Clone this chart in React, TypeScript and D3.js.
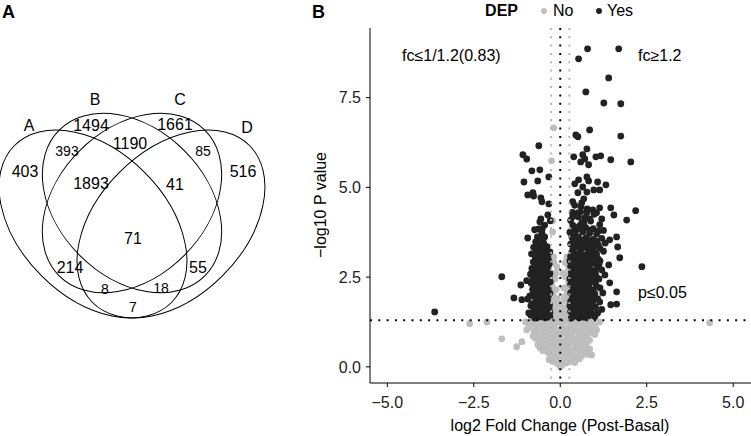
import React from "react";
import * as d3 from "d3";

// ---- Venn (panel A) ----
const vennSetNames = ["A", "B", "C", "D"];
const vennRegionKeys = ["A", "B", "C", "D", "AB", "BC", "CD", "ABC", "BCD", "ABCD", "AC", "BD", "ACD", "ABD", "AD"];
const vennCounts = [403, 1494, 1661, 516, 393, 1190, 85, 1893, 41, 71, 214, 55, 8, 18, 7];

// ---- Volcano (panel B) ----
const xTicks = [-5, -2.5, 0, 2.5, 5];
const yTicks = [0, 2.5, 5, 7.5];
const pCutoff = 0.05;
const fcCutoff = 1.2;

// DEP = Yes  [log2FC, -log10 p]
const depYes: [number, number][] = [
  [0.79, 8.86], [1.69, 8.86], [0.53, 8.58], [1.4, 8.05], [0.74, 7.66], [1.26, 7.35], [1.75, 7.33],
  [0.85, 6.6], [0.45, 6.46], [0.51, 6.41], [1.75, 6.43], [0.77, 6.07], [-0.62, 6.16], [-1.08, 5.91],
  [-0.97, 5.79], [0.39, 5.85], [0.65, 5.91], [0.71, 5.79], [1.03, 5.85], [1.17, 5.88], [0.59, 5.71],
  [0.82, 5.63], [1.46, 5.77], [2.04, 5.71], [-0.82, 5.46], [-0.59, 5.49], [-0.33, 5.29], [-1.05, 5.15],
  [-0.65, 5.18], [-0.94, 4.79], [-0.79, 4.85], [-0.77, 4.76], [-0.56, 4.71], [-0.53, 4.6], [-0.33, 4.54],
  [-0.36, 4.23], [-0.56, 4.12], [-0.59, 4.04], [-0.29, 4.07], [-0.62, 3.84], [-0.74, 3.82], [-0.94, 3.59],
  [-0.53, 3.73], [-0.45, 3.95],
  [0.77, 5.29], [0.82, 5.18], [0.53, 5.21], [1.08, 5.15], [0.42, 5.1], [0.65, 5.01], [1.32, 5.07],
  [0.51, 4.85], [0.77, 4.87], [0.97, 4.93], [1.14, 4.93], [0.68, 4.68], [0.62, 4.57], [0.36, 4.6],
  [1.46, 4.43], [2.18, 4.35], [1.14, 4.43], [0.94, 4.37], [1.05, 4.29], [1.55, 4.23], [0.51, 4.29],
  [0.77, 4.29], [0.59, 4.32], [0.36, 4.18], [0.85, 4.12], [1.92, 4.09], [0.68, 4.01], [1.14, 3.96],
  [0.42, 3.73], [1.43, 3.54], [1.66, 3.34], [1.72, 3.04], [2.36, 2.79], [1.4, 2.84], [1.29, 2.56],
  [1.43, 2.34], [1.63, 2.09], [1.23, 2.06], [1.46, 1.73], [1.63, 1.75], [1.14, 1.81], [1.63, 3.62],
  [-1.69, 2.51], [-1.14, 2.28], [-0.97, 2.4], [-1.34, 1.92], [-1.11, 1.87], [-0.94, 1.89], [-0.85, 1.7],
  [-0.91, 1.5], [-3.63, 1.53], [-0.82, 2.56],
  // left dense cluster
  [-0.66, 3.62], [-0.58, 3.55], [-0.71, 3.48], [-0.48, 3.45], [-0.63, 3.38], [-0.77, 3.33], [-0.55, 3.3],
  [-0.42, 3.27], [-0.69, 3.22], [-0.83, 3.15], [-0.6, 3.13], [-0.5, 3.1], [-0.36, 3.05], [-0.72, 3.02],
  [-0.64, 2.97], [-0.78, 2.92], [-0.55, 2.9], [-0.45, 2.93], [-0.68, 2.84], [-0.32, 2.86], [-0.6, 2.8],
  [-0.5, 2.76], [-0.82, 2.74], [-0.74, 2.7], [-0.41, 2.7], [-0.64, 2.64], [-0.55, 2.62], [-0.3, 2.6],
  [-0.86, 2.58], [-0.7, 2.55], [-0.47, 2.53], [-0.6, 2.5], [-0.78, 2.46], [-0.38, 2.46], [-0.66, 2.42],
  [-0.52, 2.4], [-0.29, 2.37], [-0.84, 2.33], [-0.72, 2.3], [-0.58, 2.28], [-0.44, 2.27], [-0.64, 2.2],
  [-0.35, 2.19], [-0.8, 2.16], [-0.5, 2.14], [-0.7, 2.1], [-0.58, 2.06], [-0.3, 2.05], [-0.42, 2.02],
  [-0.88, 1.98], [-0.76, 1.96], [-0.64, 1.93], [-0.52, 1.9], [-0.36, 1.88], [-0.7, 1.83], [-0.45, 1.8],
  [-0.82, 1.76], [-0.58, 1.75], [-0.31, 1.72], [-0.66, 1.67], [-0.5, 1.64], [-0.4, 1.61], [-0.76, 1.58],
  [-0.58, 1.55], [-0.3, 1.52], [-0.68, 1.48], [-0.46, 1.46], [-0.85, 1.44], [-0.56, 1.4], [-0.37, 1.38],
  [-0.74, 1.36], [-0.45, 3.62], [-0.38, 3.35], [-0.3, 3.2], [-0.52, 3.85], [-0.4, 2.35], [-0.34, 1.55],
  [-0.52, 3.6], [-0.6, 3.45], [-0.45, 3.35], [-0.7, 3.3], [-0.55, 3.2], [-0.4, 3.15], [-0.65, 3.08],
  [-0.48, 3.0], [-0.33, 2.95], [-0.7, 2.92], [-0.58, 2.86], [-0.42, 2.82], [-0.66, 2.74], [-0.5, 2.68],
  [-0.35, 2.72], [-0.78, 2.62], [-0.6, 2.58], [-0.42, 2.58], [-0.32, 2.5], [-0.7, 2.45], [-0.52, 2.48],
  [-0.45, 2.38], [-0.6, 2.36], [-0.78, 2.3], [-0.35, 2.3], [-0.52, 2.24], [-0.7, 2.2], [-0.42, 2.12],
  [-0.62, 2.12], [-0.5, 2.04], [-0.78, 2.04], [-0.35, 1.96], [-0.58, 1.97], [-0.45, 1.92], [-0.7, 1.9],
  [-0.62, 1.8], [-0.38, 1.8], [-0.52, 1.72], [-0.72, 1.72], [-0.42, 1.68], [-0.6, 1.62], [-0.32, 1.62],
  [-0.52, 1.55], [-0.7, 1.52], [-0.4, 1.5], [-0.6, 1.45], [-0.48, 1.38], [-0.3, 1.4], [-0.64, 1.38],
  // right dense cluster
  [0.36, 3.95], [0.55, 3.92], [0.74, 3.88], [0.95, 3.85], [0.45, 3.8], [0.65, 3.76], [0.85, 3.72],
  [1.05, 3.7], [0.32, 3.66], [0.52, 3.62], [0.75, 3.6], [1.2, 3.58], [0.95, 3.55], [0.4, 3.52],
  [0.62, 3.47], [0.85, 3.45], [0.3, 3.42], [1.1, 3.4], [0.48, 3.36], [0.72, 3.33], [0.96, 3.3],
  [0.36, 3.26], [0.58, 3.24], [0.82, 3.2], [1.25, 3.22], [0.45, 3.15], [1.05, 3.14], [0.68, 3.11],
  [0.3, 3.08], [0.9, 3.05], [0.52, 3.02], [0.75, 2.98], [0.38, 2.96], [1.15, 2.95], [0.62, 2.92],
  [0.98, 2.88], [0.46, 2.85], [0.84, 2.82], [0.3, 2.8], [0.68, 2.77], [1.08, 2.75], [0.55, 2.72],
  [0.92, 2.68], [0.38, 2.66], [0.76, 2.63], [0.48, 2.58], [1.02, 2.58], [0.62, 2.54], [0.32, 2.52],
  [0.86, 2.5], [0.52, 2.46], [0.72, 2.44], [1.12, 2.45], [0.4, 2.4], [0.96, 2.38], [0.6, 2.34],
  [0.82, 2.31], [0.3, 2.3], [0.48, 2.25], [1.05, 2.24], [0.7, 2.21], [0.38, 2.16], [0.9, 2.15],
  [0.58, 2.12], [0.78, 2.07], [0.3, 2.06], [1.0, 2.04], [0.46, 2.02], [0.66, 1.98], [0.86, 1.96],
  [0.36, 1.94], [0.54, 1.9], [1.08, 1.9], [0.74, 1.86], [0.3, 1.82], [0.94, 1.8], [0.46, 1.77],
  [0.64, 1.74], [0.82, 1.7], [0.36, 1.66], [1.02, 1.66], [0.55, 1.62], [0.74, 1.58], [0.3, 1.54],
  [0.9, 1.53], [0.46, 1.5], [0.64, 1.46], [0.82, 1.42], [0.36, 1.4], [0.55, 1.37], [1.0, 1.4],
  [0.42, 4.5], [0.6, 4.46], [0.78, 4.4], [0.35, 4.3], [0.98, 4.25], [0.52, 4.18], [0.7, 4.15],
  [0.88, 4.06], [0.3, 4.08], [1.2, 4.12], [0.62, 4.02], [1.25, 3.8], [1.3, 3.45], [1.2, 2.7],
  [1.15, 2.2], [1.2, 1.6], [0.28, 3.75], [0.28, 2.95], [0.28, 2.45], [0.28, 1.7], [1.1, 3.0], [1.08, 1.5],
  [0.42, 3.88], [0.62, 3.84], [0.85, 3.8], [1.1, 3.78], [0.35, 3.58], [0.58, 3.55], [0.8, 3.52],
  [1.05, 3.5], [0.5, 3.44], [0.7, 3.4], [0.92, 3.38], [0.4, 3.32], [0.62, 3.3], [0.85, 3.28],
  [1.15, 3.3], [0.33, 3.18], [0.55, 3.16], [0.78, 3.14], [0.98, 3.18], [0.42, 3.06], [0.65, 3.04],
  [0.85, 2.95], [1.0, 2.97], [0.5, 2.94], [0.35, 2.88], [0.58, 2.84], [0.78, 2.86], [1.12, 2.85],
  [0.42, 2.76], [0.62, 2.7], [0.85, 2.72], [1.0, 2.68], [0.32, 2.64], [0.52, 2.64], [0.7, 2.58],
  [0.92, 2.58], [0.4, 2.54], [0.58, 2.5], [0.78, 2.48], [1.05, 2.5], [0.35, 2.44], [0.64, 2.4],
  [0.88, 2.42], [0.48, 2.35], [0.72, 2.34], [1.02, 2.32], [0.36, 2.27], [0.58, 2.24], [0.82, 2.22],
  [0.46, 2.14], [0.68, 2.14], [0.95, 2.1], [0.35, 2.08], [0.55, 2.02], [0.85, 2.02], [0.72, 1.95],
  [0.45, 1.92], [0.95, 1.9], [0.62, 1.85], [0.38, 1.8], [0.85, 1.82], [0.55, 1.76], [0.72, 1.72],
  [0.46, 1.68], [0.92, 1.7], [0.62, 1.62], [0.4, 1.58], [0.82, 1.56], [0.55, 1.52], [0.72, 1.48],
  [0.4, 1.45], [0.9, 1.46], [0.5, 1.4], [0.7, 1.38], [0.32, 1.36],
];

// DEP = No
const depNo: [number, number][] = [
  [-0.19, 6.66], [-0.25, 5.74], [-0.22, 4.07], [-0.22, 3.76], [-0.19, 3.06], [-0.1, 2.79], [0.19, 3.06],
  [0.22, 3.06], [0.24, 2.79], [-0.22, 2.6], [-0.15, 2.45], [-0.24, 2.3], [-0.12, 2.15], [-0.2, 2.0],
  [-0.08, 1.9], [-0.23, 1.8], [-0.14, 1.7], [-0.05, 1.6], [-0.2, 1.55], [-0.1, 1.45], [-0.25, 1.4],
  [0.22, 2.65], [0.15, 2.5], [0.24, 2.35], [0.1, 2.2], [0.2, 2.05], [0.24, 1.9], [0.12, 1.85],
  [0.22, 1.7], [0.06, 1.65], [0.18, 1.55], [0.25, 1.45], [0.1, 1.4], [0.02, 1.5], [-0.02, 1.75],
  [-0.18, 2.9], [-0.12, 2.6], [0.15, 2.9], [0.08, 2.6], [0.2, 2.2], [-0.2, 2.15], [0.12, 1.95],
  [-0.15, 1.85], [0.2, 1.35], [-0.18, 1.32], [0.0, 1.35],
  [-2.62, 1.2], [-2.12, 1.25], [4.32, 1.23],
  [-0.97, 1.03], [-0.8, 1.25], [-0.7, 1.1], [-0.6, 1.22], [-0.5, 1.05], [-0.42, 1.18], [-0.3, 1.28],
  [-0.35, 1.0], [-0.2, 1.12], [-0.1, 1.25], [-0.05, 1.02], [0.05, 1.15], [0.15, 1.28], [0.2, 1.05],
  [0.3, 1.2], [0.4, 1.1], [0.5, 1.26], [0.55, 1.02], [0.65, 1.15], [0.75, 1.25], [0.85, 1.08],
  [1.05, 1.03], [0.95, 1.2], [1.14, 1.25], [-0.88, 1.18], [-0.25, 1.05],
  [-0.9, 1.1], [-0.75, 1.0], [-0.65, 1.28], [-0.55, 1.12], [-0.45, 1.28], [-0.38, 1.08], [-0.15, 1.2],
  [-0.02, 1.28], [0.1, 1.05], [0.25, 1.12], [0.35, 1.28], [0.45, 1.18], [0.6, 1.25], [0.7, 1.05],
  [0.8, 1.18], [0.9, 1.28], [1.0, 1.15], [-1.0, 1.25], [-0.3, 1.15],
  [-0.79, 0.86], [-0.65, 0.95], [-0.55, 0.8], [-0.45, 0.9], [-0.38, 0.75], [-0.28, 0.92], [-0.18, 0.8],
  [-0.08, 0.95], [0.0, 0.85], [0.1, 0.72], [0.18, 0.92], [0.28, 0.82], [0.36, 0.96], [0.45, 0.78],
  [0.55, 0.9], [0.65, 0.8], [0.75, 0.95], [0.85, 0.74], [-1.11, 0.7], [-1.26, 0.56], [-1.69, 0.78],
  [-0.72, 0.8], [-0.5, 0.98], [-0.4, 0.85], [-0.22, 0.98], [-0.12, 0.86], [0.05, 0.92], [0.22, 0.8],
  [0.32, 0.9], [0.4, 0.72], [0.5, 0.98], [0.6, 0.88], [0.7, 0.72], [0.8, 0.88], [0.9, 0.98],
  [-0.32, 0.78], [0.12, 0.98], [-0.05, 0.75], [1.0, 0.9],
  [-0.6, 0.72], [-0.59, 0.53], [-0.48, 0.65], [-0.4, 0.5], [-0.3, 0.62], [-0.22, 0.45], [-0.12, 0.58],
  [-0.02, 0.48], [0.08, 0.62], [0.16, 0.5], [0.26, 0.66], [0.34, 0.46], [0.44, 0.6], [0.52, 0.5],
  [0.6, 0.66], [0.7, 0.55], [0.91, 0.33], [-0.35, 0.4], [0.3, 0.4], [-0.28, 0.3], [-0.18, 0.36],
  [-0.5, 0.45], [-0.45, 0.56], [-0.35, 0.68], [-0.25, 0.55], [-0.18, 0.68], [-0.05, 0.62], [0.02, 0.7],
  [0.12, 0.45], [0.22, 0.58], [0.38, 0.68], [0.48, 0.44], [0.56, 0.62], [0.65, 0.45], [0.75, 0.62],
  [-0.65, 0.62], [0.85, 0.5], [0.62, 0.3], [0.72, 0.4], [0.8, 0.35],
  [-0.1, 0.22], [0.0, 0.3], [0.1, 0.18], [0.18, 0.32], [0.24, 0.22], [-0.22, 0.15], [-0.06, 0.08],
  [0.05, 0.05], [0.14, 0.1], [0.0, 0.0], [0.4, 0.28], [0.5, 0.38],
  [-0.32, 0.2], [-0.14, 0.28], [-0.04, 0.38], [0.04, 0.2], [0.1, 0.35], [0.28, 0.28], [0.2, 0.12],
  [-0.12, 0.12], [0.32, 0.15], [-0.02, 0.15], [0.42, 0.12], [0.55, 0.22],
];

// layout of panel A (pixel space)
const ellipses = [
  { cx: 93, cy: 224, rx: 111, ry: 73, rot: 45 },
  { cx: 132, cy: 203, rx: 103, ry: 74, rot: 45 },
  { cx: 132, cy: 203, rx: 103, ry: 74, rot: -45 },
  { cx: 171, cy: 224, rx: 111, ry: 73, rot: -45 },
];
const setLabelPos = [[29, 125], [95, 99], [180, 99], [247, 127]];
const regionPos: Record<string, [number, number, number]> = {
  A: [25, 171, 16], B: [91, 125, 16], C: [175, 124, 16], D: [243, 171, 16],
  AB: [67, 151, 14], BC: [130, 143, 16], CD: [203, 151, 14], ABC: [91, 183, 16],
  BCD: [175, 184, 16], ABCD: [133, 238, 16], AC: [70, 267, 16], BD: [198, 267, 16],
  ACD: [105, 289, 14], ABD: [161, 288, 14], AD: [133, 307, 14],
};

const font = "'Liberation Sans', Arial, Helvetica, sans-serif";

export default function App() {
  const x = d3.scaleLinear().domain([-5.5, 5.5]).range([370, 750.5]);
  const y = d3.scaleLinear().domain([-0.45, 9.44]).range([383, 28]);
  const fmt = d3.format(".1f");
  const hLine = -Math.log10(pCutoff);
  const vLines = [Math.log2(1 / fcCutoff), Math.log2(fcCutoff)];

  return (
    <svg width={751} height={436} style={{ position: "absolute", left: 0, top: 0, fontFamily: font }}>
      <rect width={751} height={436} fill="#fff" />
      {/* panel A */}
      <text x={2} y={18} fontSize={18} fontWeight="bold">A</text>
      {ellipses.map((e, i) => (
        <ellipse key={i} cx={e.cx} cy={e.cy} rx={e.rx} ry={e.ry} fill="none" stroke="#000" strokeWidth={1}
          transform={`rotate(${e.rot} ${e.cx} ${e.cy})`} />
      ))}
      {vennSetNames.map((s, i) => (
        <text key={s} x={setLabelPos[i][0]} y={setLabelPos[i][1]} fontSize={16} textAnchor="middle" dy="0.35em">{s}</text>
      ))}
      {vennRegionKeys.map((k, i) => (
        <text key={k} x={regionPos[k][0]} y={regionPos[k][1]} fontSize={regionPos[k][2]} textAnchor="middle" dy="0.35em">
          {vennCounts[i]}
        </text>
      ))}

      {/* panel B */}
      <text x={312} y={18} fontSize={18} fontWeight="bold">B</text>
      <text x={518} y={16} fontSize={16} fontWeight="bold" textAnchor="end">DEP</text>
      <circle cx={544} cy={11} r={3} fill="#bebebe" />
      <text x={553} y={16} fontSize={16}>No</text>
      <circle cx={599} cy={11} r={3} fill="#222" />
      <text x={607} y={16} fontSize={16}>Yes</text>

      {depNo.map((d, i) => (
        <circle key={"n" + i} cx={x(d[0])} cy={y(d[1])} r={3.4} fill="#bebebe" />
      ))}
      {depYes.map((d, i) => (
        <circle key={"y" + i} cx={x(d[0])} cy={y(d[1])} r={3.4} fill="#222" />
      ))}

      {vLines.map((v, i) => (
        <line key={i} x1={x(v)} x2={x(v)} y1={28} y2={383} stroke="#b5b5b5" strokeWidth={2} strokeDasharray="2 6.3" />
      ))}
      <line x1={x(0)} x2={x(0)} y1={28} y2={383} stroke="#000" strokeWidth={2} strokeDasharray="2 6.3" />
      <line x1={370} x2={751} y1={y(hLine)} y2={y(hLine)} stroke="#000" strokeWidth={2} strokeDasharray="2 6.3" />

      <text x={402} y={61} fontSize={16}>fc≤1/1.2(0.83)</text>
      <text x={638} y={61} fontSize={16}>fc≥1.2</text>
      <text x={638} y={298} fontSize={16}>p≤0.05</text>

      {/* axes */}
      <line x1={370} x2={370} y1={28} y2={383} stroke="#000" />
      <line x1={370} x2={751} y1={383} y2={383} stroke="#000" />
      {yTicks.map((t) => (
        <g key={t}>
          <line x1={366} x2={370} y1={y(t)} y2={y(t)} stroke="#000" />
          <text x={361} y={y(t)} dy="0.36em" fontSize={16} textAnchor="end" fill="#222">{fmt(t)}</text>
        </g>
      ))}
      {xTicks.map((t) => (
        <g key={t}>
          <line x1={x(t)} x2={x(t)} y1={383} y2={387} stroke="#000" />
          <text x={x(t)} y={408} fontSize={16} textAnchor="middle" fill="#222">{fmt(t)}</text>
        </g>
      ))}
      <text x={560} y={431} fontSize={16} textAnchor="middle">log2 Fold Change (Post-Basal)</text>
      <text transform="translate(326,205) rotate(-90)" fontSize={16} textAnchor="middle">−log10 P value</text>
    </svg>
  );
}
